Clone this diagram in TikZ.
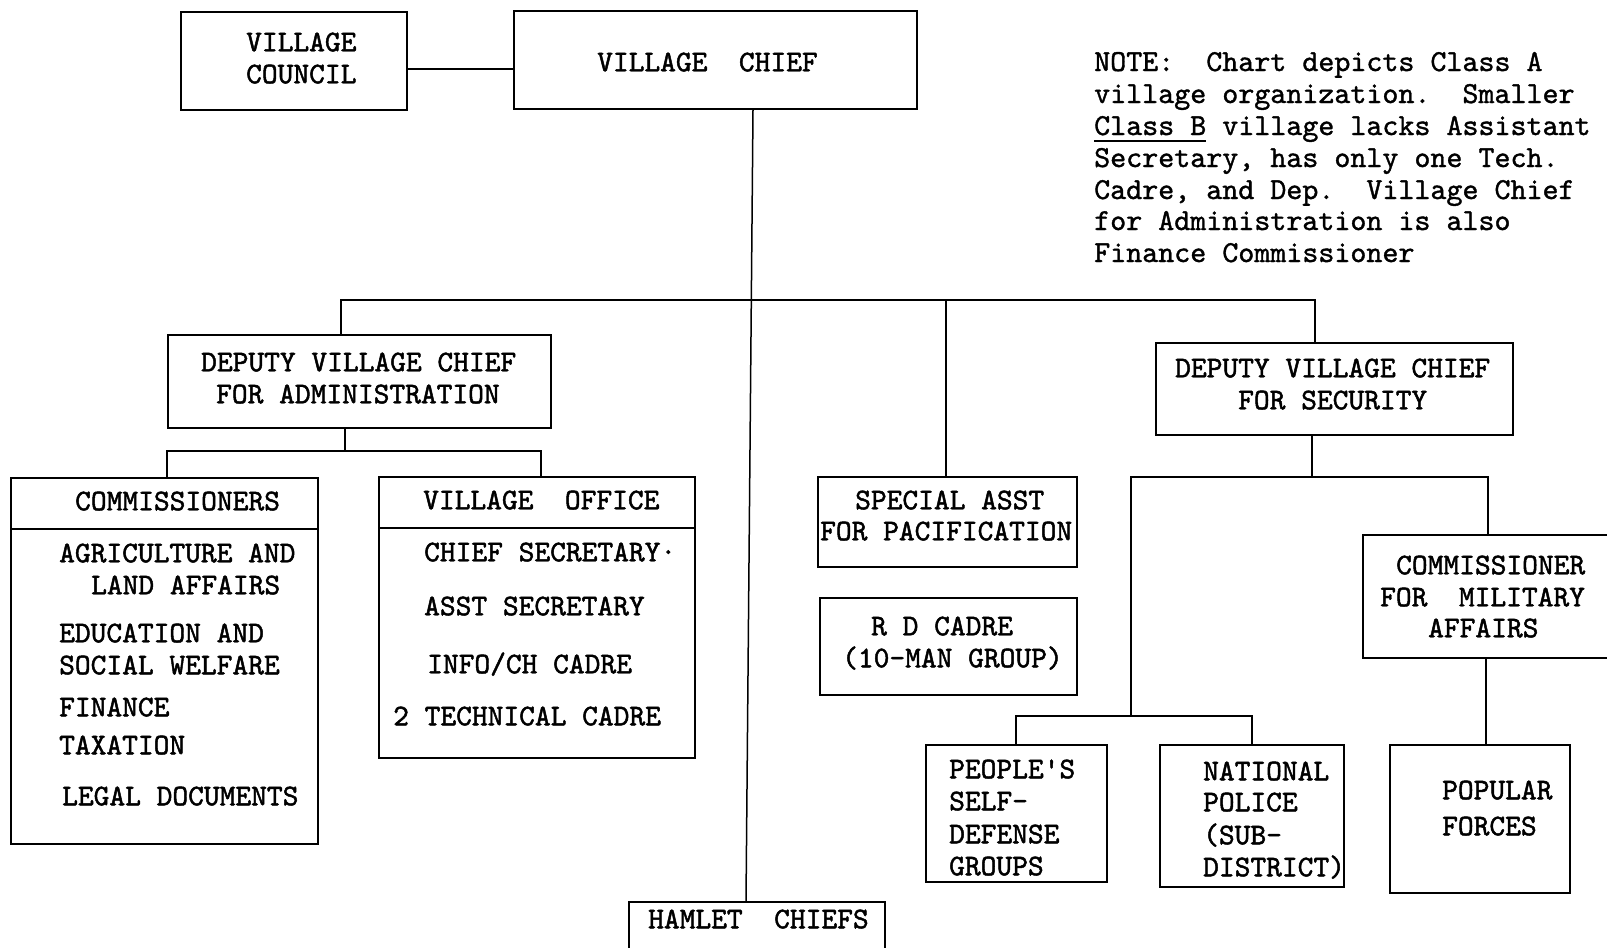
\documentclass[tikz,border=0pt]{standalone}
\usepackage{fontspec}
\newfontfamily\bxfont[FakeBold=1.6]{lmmono10-regular.otf}
\newfontfamily\ntfont[FakeBold=1.2]{lmmono10-regular.otf}
\tikzset{
  box/.style={draw, line width=1.7pt, rectangle, inner sep=0pt},
  con/.style={line width=1.5pt},
  tx/.style={inner sep=0pt, font={\bxfont\fontsize{30}{36}\selectfont}, text height=18.5pt, text depth=0pt, anchor=west},
  tc/.style={tx, anchor=center},
  nt/.style={inner sep=0pt, font={\ntfont\fontsize{30.5}{32}\selectfont}, anchor=base west},
}
\begin{document}
\begin{tikzpicture}[x=1pt,y=-1pt]
\useasboundingbox (0,0) rectangle (1607,948);
\fill[white] (0,0) rectangle (1607,948);

% boxes
\node[box, minimum width=226pt, minimum height=98pt] (council) at (294,61) {};
\node[box, minimum width=403pt, minimum height=98pt] (chief) at (715.5,60) {};
\node[box, minimum width=383pt, minimum height=93pt] (depadm) at (359.5,381.5) {};
\node[box, minimum width=307pt, minimum height=366pt] (comm) at (164.5,661) {};
\node[box, minimum width=316pt, minimum height=281pt] (office) at (537,617.5) {};
\node[box, minimum width=259pt, minimum height=90pt] (spec) at (947.5,522) {};
\node[box, minimum width=257pt, minimum height=97pt] (rd) at (948.5,646.5) {};
\node[box, minimum width=357pt, minimum height=92pt] (depsec) at (1334.5,389) {};
\node[box, minimum width=249pt, minimum height=123pt] (milit) at (1487.5,596.5) {};
\node[box, minimum width=181pt, minimum height=137pt] (people) at (1016.5,813.5) {};
\node[box, minimum width=184pt, minimum height=142pt] (natl) at (1252,816) {};
\node[box, minimum width=180pt, minimum height=148pt] (popular) at (1480,819) {};
\node[box, minimum width=256pt, minimum height=58pt] (hamlet) at (757,931) {};

% header dividers
\draw[con] ([yshift=-52pt]comm.north west) -- ([yshift=-52pt]comm.north east);
\draw[con] ([yshift=-52pt]office.north west) -- ([yshift=-52pt]office.north east);

% coordinates for connectors
\coordinate (busA) at (0,300);
\coordinate (busB) at (0,451);
\coordinate (busC) at (0,477);
\coordinate (busD) at (0,716);
\coordinate (xC) at (753,0);
\coordinate (xH) at (746,0);
\coordinate (xA) at (341,0);
\coordinate (xP) at (946,0);
\coordinate (xS) at (1315,0);
\coordinate (xa) at (345,0);
\coordinate (xc) at (167,0);
\coordinate (xo) at (541,0);
\coordinate (xs) at (1312,0);
\coordinate (xl) at (1131,0);
\coordinate (xm) at (1488,0);
\coordinate (xp) at (1016,0);
\coordinate (xn) at (1252,0);
\coordinate (xf) at (1486,0);
\coordinate (cy) at (0,69);

% connectors
\draw[con] (council.east |- cy) -- (chief.west |- cy);
\draw[con] (chief.south -| xC) -- (hamlet.north -| xH);
\draw[con] (depadm.north -| xA) -- (xA |- busA) -- (xS |- busA) -- (depsec.north -| xS);
\draw[con] (xP |- busA) -- (spec.north -| xP);
\draw[con] (depadm.south -| xa) -- (xa |- busB);
\draw[con] (comm.north -| xc) -- (xc |- busB) -- (xo |- busB) -- (office.north -| xo);
\draw[con] (depsec.south -| xs) -- (xs |- busC);
\draw[con] (milit.north -| xm) -- (xm |- busC) -- (xl |- busC) -- (xl |- busD);
\draw[con] (people.north -| xp) -- (xp |- busD) -- (xn |- busD) -- (natl.north -| xn);
\draw[con] (milit.south -| xf) -- (popular.north -| xf);

% texts
\node[tx] (t1) at (246,42) {VILLAGE};
\node[tx] (t2) at (246,74) {COUNCIL};
\node[tx] (t3) at (597,62) {VILLAGE~~CHIEF};
\node[tx] (t4) at (201,362) {DEPUTY VILLAGE CHIEF};
\node[tx] (t5) at (216,394) {FOR ADMINISTRATION};
\node[tx] (t6) at (75,501) {COMMISSIONERS};
\node[tx] (t7) at (59,553) {AGRICULTURE AND};
\node[tx] (t8) at (91,585) {LAND AFFAIRS};
\node[tx] (t9) at (59,633) {EDUCATION AND};
\node[tx] (t10) at (59,665) {SOCIAL WELFARE};
\node[tx] (t11) at (59,707) {FINANCE};
\node[tx] (t12) at (59,745) {TAXATION};
\node[tx] (t13) at (62,796) {LEGAL DOCUMENTS};
\node[tx] (t14) at (423,500) {VILLAGE~~OFFICE};
\node[tx] (t15) at (424,552) {CHIEF SECRETARY·};
\node[tx] (t16) at (424,606) {ASST SECRETARY};
\node[tx] (t17) at (427,664) {INFO/CH CADRE};
\node[tx] (t18) at (393,716) {2 TECHNICAL CADRE};
\node[tx] (t19) at (855,500) {SPECIAL ASST};
\node[tx] (t20) at (820,531) {FOR PACIFICATION};
\node[tx] (t21) at (871,626) {R D CADRE};
\node[tx] (t22) at (842,658) {(10-MAN GROUP)};
\node[tx] (t23) at (1175,368) {DEPUTY VILLAGE CHIEF};
\node[tx] (t24) at (1238,400) {FOR SECURITY};
\node[tx] (t25) at (1396,565) {COMMISSIONER};
\node[tx] (t26) at (1380,597) {FOR~~MILITARY};
\node[tx] (t27) at (1428,628) {AFFAIRS};
\node[tx] (t28) at (949,769) {PEOPLE\textquotesingle S};
\node[tx] (t29) at (949,801) {SELF-};
\node[tx] (t30) at (949,834) {DEFENSE};
\node[tx] (t31) at (949,866) {GROUPS};
\node[tx] (t32) at (1203,771) {NATIONAL};
\node[tx] (t33) at (1203,802) {POLICE};
\node[tx] (t34) at (1203,835) {(SUB-};
\node[tx] (t35) at (1203,867) {DISTRICT)};
\node[tx] (t36) at (1442,790) {POPULAR};
\node[tx] (t37) at (1442,826) {FORCES};
\node[tx] (t38) at (648,919) {HAMLET~~CHIEFS};

% note
\node[nt] (n1) at (1094,71) {NOTE:~~Chart depicts Class A};
\node[nt] (n2) at (1094,103) {village organization.~~Smaller};
\node[nt] (n3) at (1094,135) {\rlap{\rule[-6.5pt]{3.675em}{1.6pt}}Class B village lacks Assistant};
\node[nt] (n4) at (1094,167) {Secretary, has only one Tech.};
\node[nt] (n5) at (1094,199) {Cadre, and Dep.~~Village Chief};
\node[nt] (n6) at (1094,230) {for Administration is also};
\node[nt] (n7) at (1094,262) {Finance Commissioner};
\end{tikzpicture}
\end{document}
